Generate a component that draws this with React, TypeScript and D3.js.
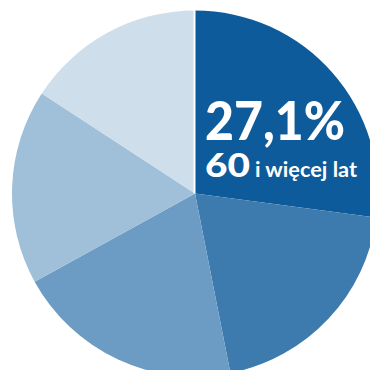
import React from "react";
import * as d3 from "d3";

const categories = ["60 i więcej lat", "B", "C", "D", "E"];
const values = [27.1, 19.8, 20.1, 17.2, 15.8];
const colors = ["#0d5b9a", "#3d7bae", "#6c9cc3", "#a0bfd8", "#cfdeeb"];
const labelValue = "27,1%";
const labelAge = "60";
const labelRest = "i więcej lat";

export default function App() {
  const W = 370, H = 370;
  const cx = 195, cy = 193.5, r = 183;
  const pie = d3.pie<number>().sort(null).value((d) => d);
  const arcs = pie(values);
  const arc = d3.arc<d3.PieArcDatum<number>>().innerRadius(0).outerRadius(r);
  const font = "Lato, 'Open Sans', sans-serif";
  return (
    <svg width={W} height={H} style={{ position: "absolute", left: 0, top: 0 }}>
      <rect width={W} height={H} fill="#fff" />
      <g transform={`translate(${cx},${cy})`}>
        {arcs.map((a, i) => (
          <path key={categories[i]} d={arc(a) || ""} fill={colors[i]} />
        ))}
        <line x1={-0.5} y1={0} x2={-0.5} y2={-r - 2} stroke="#fff" strokeWidth={2} />
      </g>
      <text x={205} y={140} fill="#fff" fontFamily={font} fontWeight={900} fontSize={54} textLength={140} lengthAdjust="spacingAndGlyphs">
        {labelValue}
      </text>
      <text x={205} y={176.5} fill="#fff" fontFamily={font} fontWeight={900} fontSize={32} textLength={45} lengthAdjust="spacingAndGlyphs">
        {labelAge}
      </text>
      <text x={255} y={176.5} fill="#fff" fontFamily={font} fontWeight={700} fontSize={20} textLength={102} lengthAdjust="spacingAndGlyphs">
        {labelRest}
      </text>
    </svg>
  );
}
